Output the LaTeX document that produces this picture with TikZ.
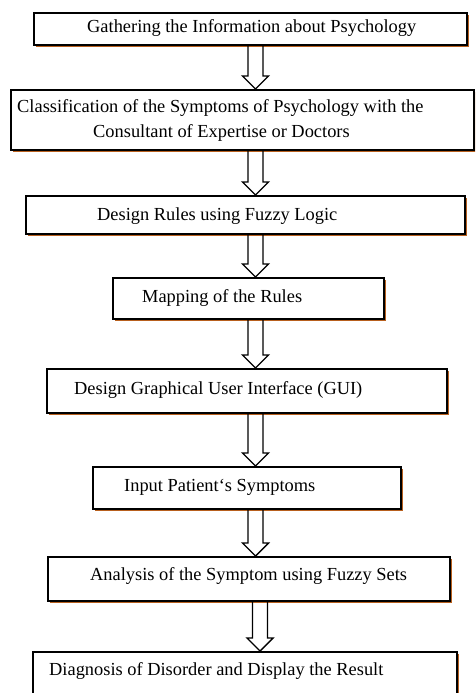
\documentclass[tikz,border=0pt]{standalone}
\usepackage{fontspec}
\setmainfont{Liberation Serif}
\usetikzlibrary{calc,shadows}
\definecolor{shadowc}{HTML}{B8601E}
\tikzset{
  box/.style={draw=black, line width=1.5pt, fill=white, rectangle, inner sep=0pt, outer sep=0pt,
    anchor=north west, drop shadow={shadow xshift=2pt, shadow yshift=-2pt, fill=shadowc, opacity=1}},
  txt/.style={anchor=base west, inner sep=0pt, font=\fontsize{18.4}{22}\selectfont},
  barrow/.style={draw=black, line width=1.4pt, line join=miter}
}
\newcommand{\blockarrow}[3]{%
  \draw[barrow] let \p1=($(#1.south -| #3)$), \p2=($(#2.north -| #3)+(0,-1)$) in
    (\x1-7.5pt,\y1) -- (\x1-7.5pt,\y2+13pt) -- (\x1-13pt,\y2+13pt) -- (\x1,\y2)
    -- (\x1+13pt,\y2+13pt) -- (\x1+7.5pt,\y2+13pt) -- (\x1+7.5pt,\y1);}
\begin{document}
\begin{tikzpicture}[x=1pt,y=-1pt]
\useasboundingbox (0,0) rectangle (475,693);
\clip (0,0) rectangle (475,693);
% boxes
\node[box, minimum width=433pt, minimum height=32pt] (b1) at (34,13) {};
\node[box, minimum width=463pt, minimum height=60pt] (b2) at (11,90) {};
\node[box, minimum width=439pt, minimum height=38pt] (b3) at (26,196) {};
\node[box, minimum width=271pt, minimum height=41pt] (b4) at (113,278) {};
\node[box, minimum width=400pt, minimum height=44pt] (b5) at (47,369) {};
\node[box, minimum width=308pt, minimum height=42pt] (b6) at (93,467) {};
\node[box, minimum width=402pt, minimum height=44pt] (b7) at (48,557) {};
\node[box, minimum width=424pt, minimum height=60pt] (b8) at (33,652) {};
% texts
\node[txt] (t1) at (87,32.7) {Gathering the Information about Psychology};
\node[txt] (t2a) at (17,112.7) {Classification of the Symptoms of Psychology with the};
\node[txt] (t2b) at (93,137.7) {Consultant of Expertise or Doctors};
\node[txt] (t3) at (97,220) {Design Rules using Fuzzy Logic};
\node[txt] (t4) at (142,302.3) {Mapping of the Rules};
\node[txt] (t5) at (74,394.3) {Design Graphical User Interface (GUI)};
\node[txt] (t6) at (124,491.7) {Input Patient‘s Symptoms};
\node[txt] (t7) at (90,580) {Analysis of the Symptom using Fuzzy Sets};
\node[txt] (t8) at (49,675) {Diagnosis of Disorder and Display the Result};
% arrows
\coordinate (ax) at (255.5,0);
\coordinate (ay) at (260,0);
\blockarrow{b1}{b2}{ax}
\blockarrow{b2}{b3}{ax}
\blockarrow{b3}{b4}{ax}
\blockarrow{b4}{b5}{ax}
\blockarrow{b5}{b6}{ax}
\blockarrow{b6}{b7}{ax}
\blockarrow{b7}{b8}{ay}
\end{tikzpicture}
\end{document}
